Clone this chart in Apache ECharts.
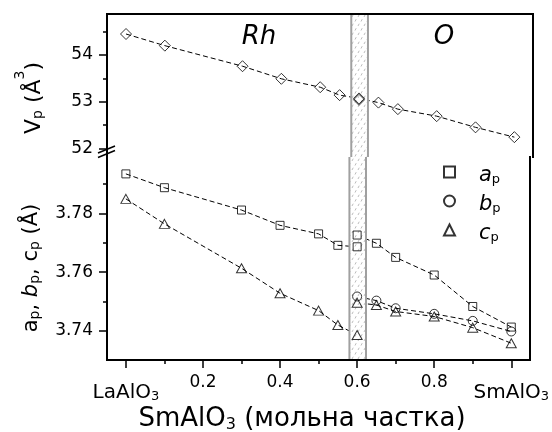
<!DOCTYPE html>
<html><head><meta charset="utf-8">
<script src="https://cdn.jsdelivr.net/npm/echarts@6/dist/echarts.min.js"></script>
<style>html,body{margin:0;padding:0;background:#fff}#c{width:552px;height:432px}</style>
</head><body><div id="c"></div>
<script>
// ---- data ----
const xV = [0, 0.1, 0.3, 0.4, 0.5, 0.55, 0.6, 0.6, 0.65, 0.7, 0.8, 0.9, 1.0];
const vP = [54.45, 54.20, 53.76, 53.49, 53.31, 53.14, 53.07, 53.04, 52.98, 52.84, 52.69, 52.45, 52.24];
const xA = [0, 0.1, 0.3, 0.4, 0.5, 0.55, 0.6, 0.6, 0.65, 0.7, 0.8, 0.9, 1.0];
const aP = [3.7934, 3.7887, 3.7811, 3.7759, 3.7730, 3.7691, 3.7686, 3.7726, 3.7698, 3.7650, 3.7590, 3.7483, 3.7413];
const xB = [0.6, 0.65, 0.7, 0.8, 0.9, 1.0];
const bP = [3.7517, 3.7503, 3.7477, 3.7458, 3.7434, 3.7398];
const xC = [0, 0.1, 0.3, 0.4, 0.5, 0.55, 0.6, 0.6, 0.65, 0.7, 0.8, 0.9, 1.0];
const cP = [3.7849, 3.7764, 3.7613, 3.7528, 3.7469, 3.7420, 3.7386, 3.7496, 3.7488, 3.7466, 3.7449, 3.7411, 3.7358];
const bandX = [0.58, 0.623];
const xMajor = [0, 0.2, 0.4, 0.6, 0.8, 1.0];
const xMinor = [0.1, 0.3, 0.5, 0.7, 0.9];
const vMajor = [52, 53, 54];
const vMinor = [52.5, 53.5, 54.5];
const abcMajor = [3.74, 3.76, 3.78];
const abcMinor = [3.75, 3.77, 3.79];
const phaseLabels = ['Rh', 'O'];
const legendNames = ['a', 'b', 'c'];

const FONT = 'DejaVu Sans';
const pairs = (xs, ys) => xs.map((x, i) => [x, ys[i]]);

// pattern for the two-phase band
const pc = document.createElement('canvas');
pc.width = 6; pc.height = 9;
const g = pc.getContext('2d');
g.fillStyle = '#fff'; g.fillRect(0, 0, 6, 9);
g.strokeStyle = '#bdbdbd'; g.lineWidth = 1;
g.beginPath(); g.moveTo(1, 3.5); g.lineTo(2.2, 1.2); g.moveTo(4, 8); g.lineTo(5.2, 5.7); g.stroke();

function bandRender(params, api) {
  const cs = params.coordSys;
  const p0 = api.coord([api.value(0), 0]);
  const p1 = api.coord([api.value(1), 0]);
  const x0 = p0[0], x1 = p1[0];
  return {
    type: 'group',
    children: [
      { type: 'rect', shape: { x: x0, y: cs.y, width: x1 - x0, height: cs.height },
        style: { fill: { image: pc, repeat: 'repeat' } } },
      { type: 'line', shape: { x1: x0, y1: cs.y, x2: x0, y2: cs.y + cs.height },
        style: { stroke: '#a0a0a0', lineWidth: 2 } },
      { type: 'line', shape: { x1: x1, y1: cs.y, x2: x1, y2: cs.y + cs.height },
        style: { stroke: '#a0a0a0', lineWidth: 2 } }
    ]
  };
}

const lineStyle = { color: '#000', width: 1, type: [5, 3] };
const hollow = { color: 'rgba(255,255,255,0)', borderColor: '#000', borderWidth: 1 };
const XMIN = -0.049, XMAX = 1.048;

function frameAxis(extra) {
  return Object.assign({
    type: 'value', z: 10,
    axisLine: { show: true, onZero: false, lineStyle: { color: '#000', width: 2, cap: 'square' } },
    axisTick: { show: false }, axisLabel: { show: false }, splitLine: { show: false }
  }, extra);
}
function majorAxis(extra, major, fmt) {
  return Object.assign({
    type: 'value', z: 10,
    axisLine: { show: true, onZero: false, lineStyle: { color: '#000', width: 2, cap: 'square' } },
    axisTick: { show: true, customValues: major, length: 8, lineStyle: { color: '#000', width: 1.5 } },
    axisLabel: { show: true, customValues: major, margin: 14, color: '#000', fontSize: 17, fontFamily: FONT, formatter: fmt },
    splitLine: { show: false }
  }, extra);
}
function minorAxis(extra, minor) {
  return Object.assign({
    type: 'value', z: 10,
    axisLine: { show: false, onZero: false },
    axisTick: { show: true, customValues: minor, length: 4, lineStyle: { color: '#000', width: 1.5 } },
    axisLabel: { show: false }, splitLine: { show: false }
  }, extra);
}

const xFmt = v => Math.abs(v) < 1e-9 ? '{m|LaAlO}{s|3}' : (Math.abs(v - 1) < 1e-9 ? '{m|SmAlO}{s|3}' : v.toFixed(1));

const option = {
  animation: false,
  textStyle: { fontFamily: FONT },
  grid: [
    { left: 107, top: 14, width: 426, height: 143 },
    { left: 107, top: 157, width: 426, height: 203 }
  ],
  xAxis: [
    frameAxis({ gridIndex: 0, position: 'top', min: XMIN, max: XMAX }),
    (function () {
      const a = majorAxis({ gridIndex: 1, position: 'bottom', min: XMIN, max: XMAX }, xMajor, xFmt);
      a.axisLabel.rich = {
        m: { fontSize: 20, lineHeight: 29, verticalAlign: 'bottom', fontFamily: FONT, color: '#000' },
        s: { fontSize: 13, lineHeight: 6, verticalAlign: 'bottom', fontFamily: FONT, color: '#000' }
      };
      return a;
    })(),
    minorAxis({ gridIndex: 1, position: 'bottom', min: XMIN, max: XMAX }, xMinor)
  ],
  yAxis: [
    majorAxis({ gridIndex: 0, position: 'left', min: 51.8145, max: 54.8786 }, vMajor, v => String(Math.round(v))),
    minorAxis({ gridIndex: 0, position: 'left', min: 51.8145, max: 54.8786 }, vMinor),
    frameAxis({ gridIndex: 0, position: 'right', min: 51.8145, max: 54.8786 }),
    majorAxis({ gridIndex: 1, position: 'left', min: 3.7301, max: 3.79914 }, abcMajor, v => v.toFixed(2)),
    minorAxis({ gridIndex: 1, position: 'left', min: 3.7301, max: 3.79914 }, abcMinor),
    frameAxis({ gridIndex: 1, position: 'right', min: 3.7301, max: 3.79914 })
  ],
  legend: {
    orient: 'vertical', left: 438, top: 160, padding: 5, itemWidth: 11, itemHeight: 11, itemGap: 8,
    selectedMode: false,
    data: legendNames.map(n => n + '_p'),
    formatter: name => '{i|' + name.charAt(0) + '}{s|p}',
    textStyle: {
      rich: {
        i: { fontSize: 21, fontStyle: 'italic', lineHeight: 28, verticalAlign: 'bottom', padding: [0, 0, 0, 19], fontFamily: FONT, color: '#000' },
        s: { fontSize: 13, lineHeight: 4, verticalAlign: 'bottom', fontFamily: FONT, color: '#000' }
      }
    }
  },
  series: [
    // band
    { type: 'custom', xAxisIndex: 0, yAxisIndex: 0, z: 2, silent: true, renderItem: bandRender, data: [bandX] },
    { type: 'custom', xAxisIndex: 1, yAxisIndex: 3, z: 2, silent: true, renderItem: bandRender, data: [bandX] },
    // dashed lines
    { type: 'line', name: 'Vline', xAxisIndex: 0, yAxisIndex: 0, z: 1, showSymbol: false, silent: true, lineStyle, data: pairs(xV, vP) },
    { type: 'line', name: 'aline', xAxisIndex: 1, yAxisIndex: 3, z: 1, showSymbol: false, silent: true, lineStyle, data: pairs(xA, aP) },
    { type: 'line', name: 'bline', xAxisIndex: 1, yAxisIndex: 3, z: 1, showSymbol: false, silent: true, lineStyle, data: pairs(xB, bP) },
    { type: 'line', name: 'cline', xAxisIndex: 1, yAxisIndex: 3, z: 1, showSymbol: false, silent: true, lineStyle, data: pairs(xC, cP) },
    // markers
    { type: 'scatter', name: 'V_p', xAxisIndex: 0, yAxisIndex: 0, z: 3, symbol: 'diamond', symbolSize: 11, itemStyle: hollow, silent: true, data: pairs(xV, vP) },
    { type: 'scatter', name: 'a_p', xAxisIndex: 1, yAxisIndex: 3, z: 3, symbol: 'rect', symbolSize: 8, itemStyle: hollow, silent: true, data: pairs(xA, aP) },
    { type: 'scatter', name: 'b_p', xAxisIndex: 1, yAxisIndex: 3, z: 3, symbol: 'circle', symbolSize: 9, itemStyle: hollow, silent: true, data: pairs(xB, bP) },
    { type: 'scatter', name: 'c_p', xAxisIndex: 1, yAxisIndex: 3, z: 3, symbol: 'triangle', symbolSize: [10, 9], itemStyle: hollow, silent: true, data: pairs(xC, cP) }
  ],
  graphic: [
    { type: 'text', x: 29, y: 98, rotation: Math.PI / 2, z: 20,
      style: { text: '{m|V}{s|p}{m| (Å}{u|3}{m|)}', align: 'center', verticalAlign: 'middle', fill: '#000',
        rich: {
          m: { fontSize: 22, lineHeight: 32, verticalAlign: 'bottom', fontFamily: FONT, fill: '#000' },
          s: { fontSize: 14, lineHeight: 11, verticalAlign: 'bottom', fontFamily: FONT, fill: '#000' },
          u: { fontSize: 14, lineHeight: 16, verticalAlign: 'top', fontFamily: FONT, fill: '#000' }
        } } },
    { type: 'text', x: 26, y: 268, rotation: Math.PI / 2, z: 20,
      style: { text: '{m|a}{s|p}{m|, }{b|b}{s|p}{m|, c}{s|p}{m| (Å)}', align: 'center', verticalAlign: 'middle', fill: '#000',
        rich: {
          m: { fontSize: 21, lineHeight: 32, verticalAlign: 'bottom', fontFamily: FONT, fill: '#000' },
          b: { fontSize: 21, lineHeight: 32, verticalAlign: 'bottom', fontStyle: 'italic', fontFamily: FONT, fill: '#000' },
          s: { fontSize: 14, lineHeight: 11, verticalAlign: 'bottom', fontFamily: FONT, fill: '#000' }
        } } },
    { type: 'text', x: 302, y: 416, z: 20,
      style: { text: '{m|SmAlO}{s|3}{m| (мольна частка)}', align: 'center', verticalAlign: 'middle', fill: '#000',
        rich: {
          m: { fontSize: 26, lineHeight: 33, verticalAlign: 'bottom', fontFamily: FONT, fill: '#000' },
          s: { fontSize: 16, lineHeight: 12, verticalAlign: 'bottom', fontFamily: FONT, fill: '#000' }
        } } },
    { type: 'text', x: 259, y: 37, z: 20,
      style: { text: phaseLabels[0], align: 'center', verticalAlign: 'middle', fill: '#000', fontSize: 26, fontStyle: 'italic', fontFamily: FONT } },
    { type: 'text', x: 444, y: 37, z: 20,
      style: { text: phaseLabels[1], align: 'center', verticalAlign: 'middle', fill: '#000', fontSize: 26, fontStyle: 'italic', fontFamily: FONT } },
    { type: 'line', z: 20, shape: { x1: 98, y1: 153, x2: 115, y2: 146 }, style: { stroke: '#000', lineWidth: 1.5 } },
    { type: 'line', z: 20, shape: { x1: 98, y1: 157.5, x2: 115, y2: 150.5 }, style: { stroke: '#000', lineWidth: 1.5 } }
  ]
};

const chart = echarts.init(document.getElementById('c'), null, { renderer: 'canvas' });
chart.setOption(option);
</script></body></html>
